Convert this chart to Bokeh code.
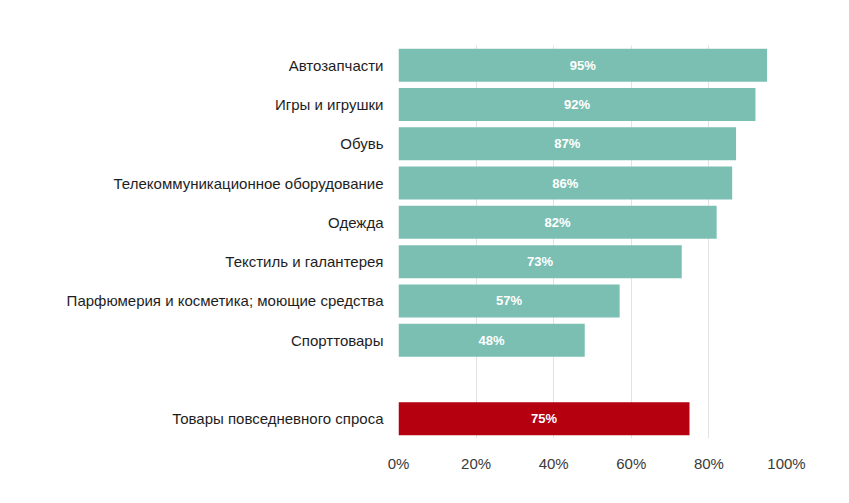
from bokeh.plotting import figure
from bokeh.models import ColumnDataSource, FixedTicker
from bokeh.core.properties import value
from bokeh.embed import file_html
from bokeh.resources import INLINE

categories = [
    "Автозапчасти",
    "Игры и игрушки",
    "Обувь",
    "Телекоммуникационное оборудование",
    "Одежда",
    "Текстиль и галантерея",
    "Парфюмерия и косметика; моющие средства",
    "Спорттовары",
    " ",
    "Товары повседневного спроса",
]
values = [95, 92, 87, 86, 82, 73, 57, 48, None, 75]
highlight = [False, False, False, False, False, False, False, False, False, True]
x_ticks = [0, 20, 40, 60, 80, 100]
x_tick_labels = ["0%", "20%", "40%", "60%", "80%", "100%"]

TEAL = "#7bbfb3"
RED = "#b4000f"

cats, vals, cols, labs, mids = [], [], [], [], []
for c, v, h in zip(categories, values, highlight):
    if v is None:
        continue
    cats.append(c)
    vals.append(v)
    cols.append(RED if h else TEAL)
    labs.append(f"{v}%")
    mids.append(v / 2)

src = ColumnDataSource(dict(cat=cats, val=vals, col=cols, lab=labs, mid=mids))

p = figure(
    y_range=list(reversed(categories)),
    x_range=(0, 100),
    frame_width=388,
    frame_height=393,
    min_border_left=398,
    min_border_top=45,
    min_border_right=36,
    min_border_bottom=40,
    output_backend="svg",
    toolbar_location=None,
)

p.hbar(y="cat", left=0, right="val", height=0.84, color="col", line_color=None, source=src)
p.text(x="mid", y="cat", text="lab", source=src, text_color="white",
       text_font=value("Liberation Sans"), text_font_style="bold",
       text_font_size="13px", text_align="center", text_baseline="middle")

p.outline_line_color = None
p.ygrid.grid_line_color = None
p.xgrid.grid_line_color = "#e2e2e2"
p.xgrid.grid_line_width = 1

p.xaxis.ticker = FixedTicker(ticks=x_ticks)
p.xaxis.major_label_overrides = {t: l for t, l in zip(x_ticks, x_tick_labels)}
p.xaxis.axis_line_color = None
p.xaxis.major_tick_line_color = None
p.xaxis.minor_tick_line_color = None
p.xaxis.major_tick_out = 0
p.xaxis.major_label_standoff = 16
p.xaxis.major_label_text_font = "Liberation Sans"
p.xaxis.major_label_text_font_size = "15px"
p.xaxis.major_label_text_color = "#3a3a3a"

p.yaxis.axis_line_color = None
p.yaxis.major_tick_line_color = None
p.yaxis.major_tick_out = 0
p.yaxis.major_label_standoff = 15
p.yaxis.major_label_text_font = "Liberation Sans"
p.yaxis.major_label_text_font_size = "15px"
p.yaxis.major_label_text_color = "#1e1e1e"

open("out.html", "w").write(file_html(p, INLINE))
